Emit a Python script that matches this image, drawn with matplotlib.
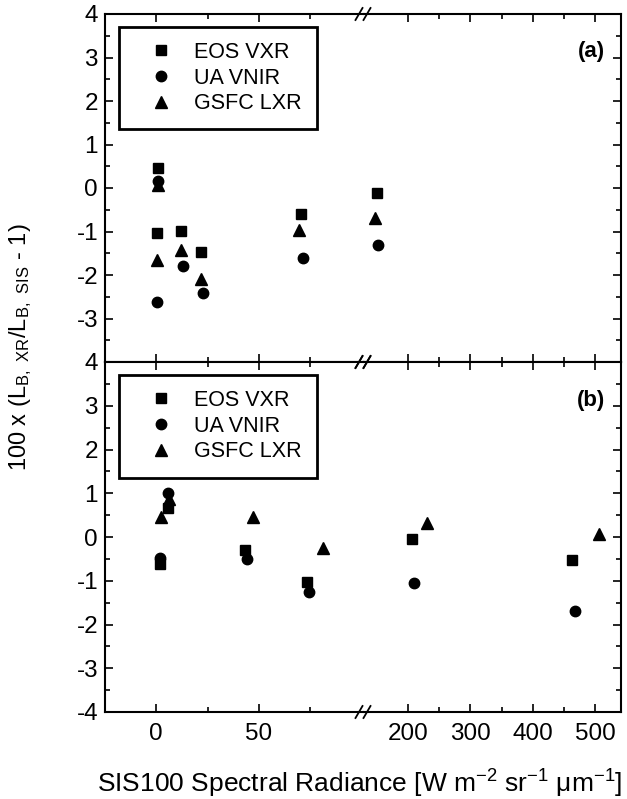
import matplotlib
matplotlib.use("Agg")
import matplotlib.pyplot as plt
from matplotlib.ticker import FixedLocator

plt.rcParams['font.family'] = ['Liberation Sans', 'DejaVu Sans']
plt.rcParams['mathtext.default'] = 'regular'

# ---------------- data ----------------
series_names = ["EOS VXR", "UA VNIR", "GSFC LXR"]
series_markers = ["s", "o", "^"]

# panel (a)
a_eos_x = [1, 0.5, 12, 22, 70.5, 150]
a_eos_y = [0.47, -1.03, -0.99, -1.46, -0.60, -0.11]
a_ua_x = [1, 0.5, 13, 23, 71.5, 152]
a_ua_y = [0.15, -2.63, -1.79, -2.42, -1.60, -1.30]
a_gsfc_x = [1, 0.5, 12, 22, 69.5, 147]
a_gsfc_y = [0.07, -1.66, -1.43, -2.10, -0.97, -0.70]

# panel (b)
b_eos_x = [2, 5.8, 43, 73.5, 206, 463]
b_eos_y = [-0.62, 0.66, -0.30, -1.03, -0.05, -0.53]
b_ua_x = [2, 5.7, 44, 74.5, 209, 468]
b_ua_y = [-0.49, 1.00, -0.50, -1.25, -1.04, -1.69]
b_gsfc_x = [2.5, 6.5, 47, 81, 230, 506]
b_gsfc_y = [0.45, 0.88, 0.45, -0.25, 0.33, 0.06]

left_major = [0, 50]
left_minor = [25, 75]
right_major = [200, 300, 400, 500]
right_minor = [250, 350, 450]
y_major = [-4, -3, -2, -1, 0, 1, 2, 3, 4]
y_minor = [-3.5, -2.5, -1.5, -0.5, 0.5, 1.5, 2.5, 3.5]

panel_labels = ["(a)", "(b)"]

# ---------------- layout ----------------
W, H = 627, 799
fig = plt.figure(figsize=(W / 100, H / 100), dpi=100)

x0, xb, x1 = 105, 364, 621
y_top, y_mid, y_bot = 14, 362, 712


def fx(px):
    return px / W


def fy(py):
    return 1 - py / H


rows = [(y_top, y_mid), (y_mid, y_bot)]
panels = [
    [(a_eos_x, a_eos_y), (a_ua_x, a_ua_y), (a_gsfc_x, a_gsfc_y)],
    [(b_eos_x, b_eos_y), (b_ua_x, b_ua_y), (b_gsfc_x, b_gsfc_y)],
]
msizes = {"s": 7, "o": 7.5, "^": 8}

lw = 1.5
for r, (ya, yb) in enumerate(rows):
    axL = fig.add_axes([fx(x0), fy(yb), fx(xb) - fx(x0), fy(ya) - fy(yb)])
    axR = fig.add_axes([fx(xb), fy(yb), fx(x1) - fx(xb), fy(ya) - fy(yb)])
    axL.set_xlim(-24.8, 101)
    axR.set_xlim(129.4, 541.7)
    for ax in (axL, axR):
        ax.set_ylim(-4, 4)
        for s in ax.spines.values():
            s.set_linewidth(lw)
        ax.yaxis.set_major_locator(FixedLocator(y_major))
        ax.yaxis.set_minor_locator(FixedLocator(y_minor))
        ax.tick_params(which='major', direction='in', length=6, width=1.2,
                       top=True, bottom=True, labelsize=17.5, pad=5)
        ax.tick_params(which='minor', direction='in', length=3.5, width=1.2,
                       top=True, bottom=True)
        for (xs, ys), m, name in zip(panels[r], series_markers, series_names):
            ax.plot(xs, ys, linestyle='none', marker=m, ms=msizes[m],
                    color='black', mec='black', label=name, clip_on=True)
    axL.spines['right'].set_visible(False)
    axR.spines['left'].set_visible(False)
    axL.tick_params(which='both', left=True, right=False)
    axR.tick_params(which='both', left=False, right=True, labelleft=False)
    axL.xaxis.set_major_locator(FixedLocator(left_major))
    axL.xaxis.set_minor_locator(FixedLocator(left_minor))
    axR.xaxis.set_major_locator(FixedLocator(right_major))
    axR.xaxis.set_minor_locator(FixedLocator(right_minor))
    if r == 0:
        axL.set_yticklabels([("" if v == -4 else str(v)) for v in y_major])
        axL.tick_params(labelbottom=False)
        axR.tick_params(labelbottom=False)
    else:
        axL.set_yticklabels([str(v) for v in y_major])
        axL.tick_params(axis='x', pad=8)
        axR.tick_params(axis='x', pad=8)

    leg = axL.legend(loc='upper left', bbox_to_anchor=(0.054, 0.963),
                     fontsize=15.5, frameon=True, fancybox=False,
                     edgecolor='black', framealpha=1.0, borderpad=0.7,
                     labelspacing=0.22, handlelength=2.5, handletextpad=0.3,
                     borderaxespad=0, markerscale=1.0)
    leg.get_frame().set_linewidth(2.0)

    axR.text(0.885, 1 - (52 - y_top) / (y_mid - y_top), panel_labels[r],
             transform=axR.transAxes, ha='center', va='center',
             fontsize=16, fontweight='bold')

    # break marks
    for py in (ya, yb):
        for cx in (359, 367):
            fig.add_artist(plt.Line2D([fx(cx - 3.5), fx(cx + 3.5)],
                                      [fy(py + 6), fy(py - 6)],
                                      color='black', lw=1.3,
                                      transform=fig.transFigure))

fig.text(fx((x0 + x1) / 2 - 3), fy(784),
         'SIS100 Spectral Radiance [W m$^{-2}$ sr$^{-1}$ μm$^{-1}$]',
         ha='center', va='center', fontsize=19)
fig.text(fx(21), fy(347),
         '100 x (L$_{B,\\ XR}$/L$_{B,\\ SIS}$ - 1)',
         ha='center', va='center', rotation=90, fontsize=17)

fig.savefig('out.png', dpi=100)
